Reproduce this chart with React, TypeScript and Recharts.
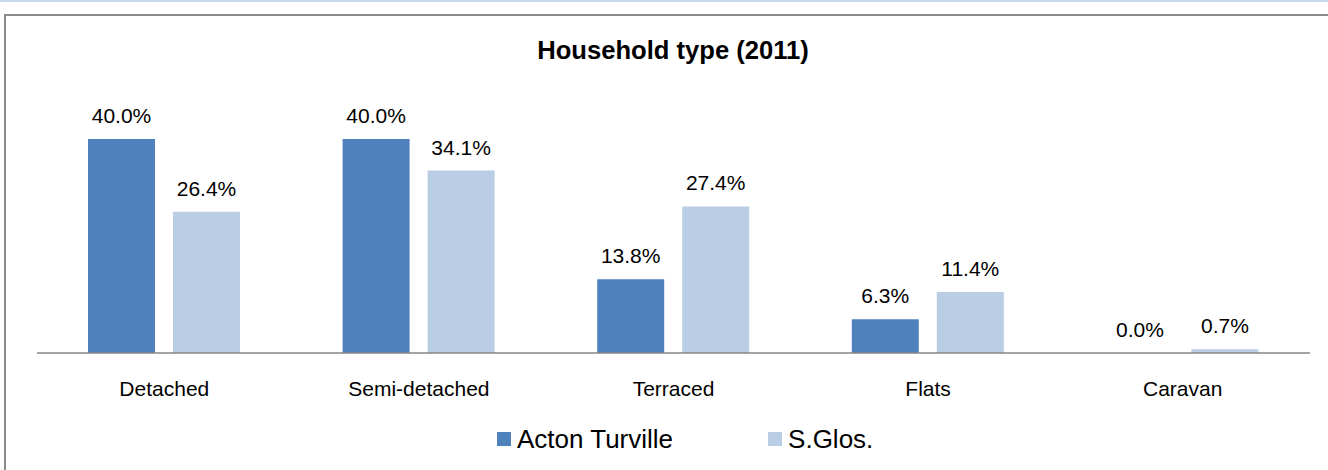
import React from 'react';
import { BarChart, Bar, XAxis, YAxis, LabelList, Legend } from 'recharts';

const categories = ['Detached', 'Semi-detached', 'Terraced', 'Flats', 'Caravan'];
const actonTurville = [40.0, 40.0, 13.8, 6.3, 0.0];
const sGlos = [26.4, 34.1, 27.4, 11.4, 0.7];
const seriesNames = ['Acton Turville', 'S.Glos.'];
const seriesColors = ['#4F81BD', '#B9CDE5'];
const title = 'Household type (2011)';

const data = categories.map((c, i) => ({ name: c, a: actonTurville[i], b: sGlos[i] }));

const FONT = '"Liberation Sans", Arial, sans-serif';

const fmt = (v: any) => `${Number(v).toFixed(1)}%`;

const LegendContent = () => (
  <div style={{ display: 'flex', alignItems: 'center', fontFamily: FONT, fontSize: 26, color: '#000' }}>
    {seriesNames.map((n, i) => (
      <div key={n} style={{ display: 'flex', alignItems: 'center', marginRight: i === 0 ? 95 : 0 }}>
        <span style={{ display: 'inline-block', width: 14, height: 14, background: seriesColors[i], marginRight: 6 }} />
        <span style={{ lineHeight: '26px' }}>{n}</span>
      </div>
    ))}
  </div>
);

export default function App() {
  return (
    <div style={{ position: 'absolute', left: 0, top: 0, width: 1328, height: 470, overflow: 'hidden', background: '#fff' }}>
      <div style={{ position: 'absolute', left: 0, top: 0, width: 1328, height: 2, background: '#C6D9F1' }} />
      <div style={{ position: 'absolute', left: 4, top: 14, width: 1400, height: 500, border: '2px solid #8C8C8C', boxSizing: 'border-box' }} />
      <div style={{ position: 'absolute', left: 0, top: 0, width: 1346, textAlign: 'center', fontFamily: FONT, fontWeight: 'bold', fontSize: 25.6, lineHeight: '25px', paddingTop: 38, color: '#000' }}>
        {title}
      </div>
      <div style={{ position: 'absolute', left: 0, top: 0 }}>
        <BarChart width={1328} height={470} data={data} margin={{ top: 139, right: 18, bottom: 87, left: 37 }} barGap={18}>
          <XAxis
            dataKey="name"
            height={30}
            tickSize={0}
            tickMargin={28}
            axisLine={{ stroke: '#868686', strokeWidth: 1.5 }}
            tickLine={false}
            tick={{ fill: '#000', fontSize: 21, fontFamily: FONT }}
            interval={0}
          />
          <YAxis hide domain={[0, 40]} />
          <Legend
            layout="horizontal"
            verticalAlign="middle"
            align="center"
            content={<LegendContent />}
            wrapperStyle={{ position: 'absolute', top: 426, left: 497, width: 'auto' }}
          />
          <Bar dataKey="a" name={seriesNames[0]} fill={seriesColors[0]} barSize={67} minPointSize={0.01} isAnimationActive={false}>
            <LabelList dataKey="a" position="top" offset={16} formatter={fmt} style={{ fill: '#000', fontSize: 21, fontFamily: FONT }} />
          </Bar>
          <Bar dataKey="b" name={seriesNames[1]} fill={seriesColors[1]} barSize={67} isAnimationActive={false}>
            <LabelList dataKey="b" position="top" offset={16} formatter={fmt} style={{ fill: '#000', fontSize: 21, fontFamily: FONT }} />
          </Bar>
        </BarChart>
      </div>
    </div>
  );
}
